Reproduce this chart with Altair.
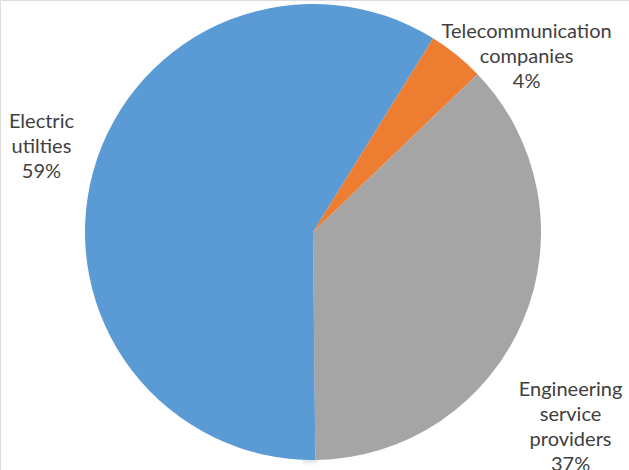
import math
import altair as alt
import pandas as pd

categories = ["Electric utilties", "Telecommunication companies", "Engineering service providers"]
labels = ["Electric\nutilties", "Telecommunication\ncompanies", "Engineering\nservice\nproviders"]
shares = [59, 4, 37]
colors = ["#5B9BD5", "#ED7D31", "#A5A5A5"]

df = pd.DataFrame({
    "category": categories,
    "label": [f"{l}\n{v}%" for l, v in zip(labels, shares)],
    "share": shares,
    "order": list(range(len(categories))),
})

start = math.radians(179.4)
theta_scale = alt.Scale(range=[start, start + 2 * math.pi])
CX, CY, R = 313, 232, 228

base = alt.Chart(df).encode(
    theta=alt.Theta("share:Q", stack=True, scale=theta_scale),
    order=alt.Order("order:Q"),
)

one = pd.DataFrame({"v": [1]})
shadows = [
    alt.Chart(one).mark_arc(color="#000000", opacity=op).encode(
        theta=alt.Theta("v:Q"),
        x=alt.value(CX + off), y=alt.value(CY + off),
        radius=alt.value(R + grow),
    )
    for op, off, grow in [(0.025, 2, 3), (0.03, 1.5, 2), (0.04, 1, 1)]
]

pie = base.mark_arc().encode(
    color=alt.Color("category:N", scale=alt.Scale(domain=categories, range=colors), legend=None),
    x=alt.value(CX), y=alt.value(CY),
    radius=alt.value(R),
)

label_style = [
    # (category, radius, dx, dy)
    (categories[0], 284, 2, -34),
    (categories[1], 260, 50, 2),
    (categories[2], 300, -19, 42),
]

text_layers = []
for cat, rad, dx, dy in label_style:
    text_layers.append(
        alt.Chart(df).mark_text(
            font="Lato", fontSize=20, color="#404040", lineBreak="\n",
            lineHeight=25, dx=dx, dy=dy, align="center", baseline="middle",
        ).encode(
            theta=alt.Theta("share:Q", stack=True, scale=theta_scale),
            order=alt.Order("order:Q"),
            x=alt.value(CX), y=alt.value(CY),
            radius=alt.value(rad),
            text=alt.condition(alt.datum.category == cat, "label:N", alt.value("")),
        )
    )

chart = alt.layer(*shadows, pie, *text_layers).properties(
    width=629, height=470, padding=0, autosize=alt.AutoSizeParams(type="none")
).configure_view(stroke=None).configure(background="white")

chart.save("out.html", embed_options={"renderer": "svg", "actions": False})
